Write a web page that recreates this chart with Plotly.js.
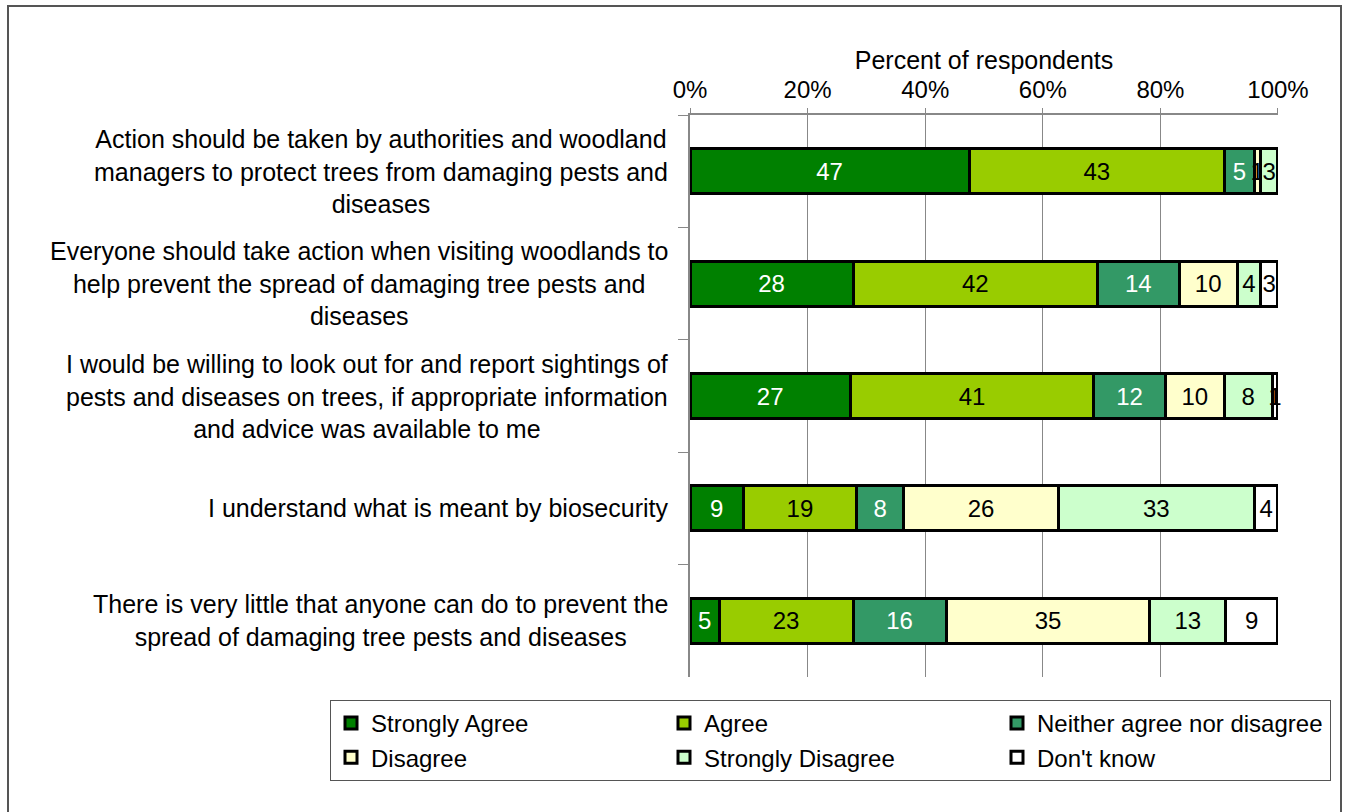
<!DOCTYPE html>
<html>
<head>
<meta charset="utf-8">
<script src="https://cdn.plot.ly/plotly-3.0.1.min.js"></script>
<style>
  html, body { margin: 0; padding: 0; background: #ffffff; }
  #chart { width: 1348px; height: 812px; }
</style>
</head>
<body>
<div id="chart"></div>
<script>
// ---- Data ----
const statements = [
  "Action should be taken by authorities and woodland<br>managers to protect trees from damaging pests and<br>diseases",
  "Everyone should take action when visiting woodlands to<br>help prevent the spread of damaging tree pests and<br>diseases",
  "I would be willing to look out for and report sightings of<br>pests and diseases on trees, if appropriate information<br>and advice was available to me",
  "I understand what is meant by biosecurity",
  "There is very little that anyone can do to prevent the<br>spread of damaging tree pests and diseases"
];
const categoryIds = ["S1", "S2", "S3", "S4", "S5"];

const seriesNames = ["Strongly Agree", "Agree", "Neither agree nor disagree", "Disagree", "Strongly Disagree", "Don't know"];

const stronglyAgree    = [47, 28, 27, 9, 5];
const agree            = [43, 42, 41, 19, 23];
const neither          = [5, 14, 12, 8, 16];
const disagree         = [1, 10, 10, 26, 35];
const stronglyDisagree = [3, 4, 8, 33, 13];
const dontKnow         = [0, 3, 1, 4, 9];

const xTickVals  = [0, 20, 40, 60, 80, 100];
const xTickTexts = ["0%", "20%", "40%", "60%", "80%", "100%"];

// ---- Styles ----
const seriesValues = [stronglyAgree, agree, neither, disagree, stronglyDisagree, dontKnow];
const fillColors   = ["#008000", "#99cc00", "#339966", "#ffffcc", "#ccffcc", "#ffffff"];
const textColors   = ["#ffffff", "#000000", "#ffffff", "#000000", "#000000", "#000000"];
const FONT = "Liberation Sans, Arial, sans-serif";

const traces = seriesNames.map((name, i) => ({
  type: "bar",
  orientation: "h",
  name: name,
  y: categoryIds,
  x: seriesValues[i],
  text: seriesValues[i].map(v => v > 0 ? String(v) : ""),
  textposition: "inside",
  insidetextanchor: "middle",
  textangle: 0,
  constraintext: "none",
  cliponaxis: false,
  textfont: { family: FONT, size: 24, color: textColors[i] },
  insidetextfont: { family: FONT, size: 24, color: textColors[i] },
  marker: { color: fillColors[i], line: { color: "#000000", width: 3 } },
  hoverinfo: "name+x"
}));

const annotations = statements.map((s, i) => ({
  xref: "paper", yref: "y",
  x: 0, y: categoryIds[i],
  xanchor: "right", yanchor: "middle",
  xshift: -20,
  align: "center",
  showarrow: false,
  text: s,
  font: { family: FONT, size: 25, color: "#000000" }
}));

const layout = {
  width: 1348,
  height: 812,
  paper_bgcolor: "#ffffff",
  plot_bgcolor: "#ffffff",
  margin: { l: 690, r: 70, t: 115, b: 135, pad: 0 },
  barmode: "stack",
  barnorm: "percent",
  bargap: 0.6,
  font: { family: FONT, size: 25, color: "#000000" },
  showlegend: true,
  legend: {
    orientation: "h",
    x: (330 - 690) / 588, xanchor: "left",
    y: (677 - 700) / 562, yanchor: "top",
    entrywidth: 288,
    entrywidthmode: "pixels",
    itemwidth: 30,
    traceorder: "normal",
    bordercolor: "#555555",
    borderwidth: 1,
    bgcolor: "#ffffff",
    font: { family: FONT, size: 24, color: "#000000" }
  },
  xaxis: {
    side: "top",
    range: [0, 100.001],
    tickvals: xTickVals,
    ticktext: xTickTexts,
    ticks: "outside",
    ticklen: 5,
    tickcolor: "#888888",
    showline: true,
    linecolor: "#888888",
    linewidth: 2,
    showgrid: true,
    gridcolor: "#888888",
    gridwidth: 1,
    zeroline: false,
    tickfont: { family: FONT, size: 24, color: "#000000" },
    title: { text: "Percent of respondents", font: { family: FONT, size: 25, color: "#000000" }, standoff: 0 }
  },
  yaxis: {
    type: "category",
    categoryorder: "array",
    categoryarray: categoryIds,
    autorange: "reversed",
    showticklabels: false,
    ticks: "outside",
    tickson: "boundaries",
    ticklen: 10,
    tickcolor: "#888888",
    showline: true,
    linecolor: "#888888",
    linewidth: 2,
    showgrid: false,
    zeroline: false
  },
  annotations: annotations,
  shapes: [
    {
      type: "rect", xref: "paper", yref: "paper",
      x0: (8 - 690) / 588, x1: (1341 - 690) / 588,
      y0: -0.35, y1: (677 - 6) / 562,
      line: { color: "#555555", width: 2 },
      fillcolor: "rgba(0,0,0,0)",
      layer: "below"
    }
  ]
};

Plotly.newPlot("chart", traces, layout, { displayModeBar: false, staticPlot: true });
</script>
</body>
</html>
